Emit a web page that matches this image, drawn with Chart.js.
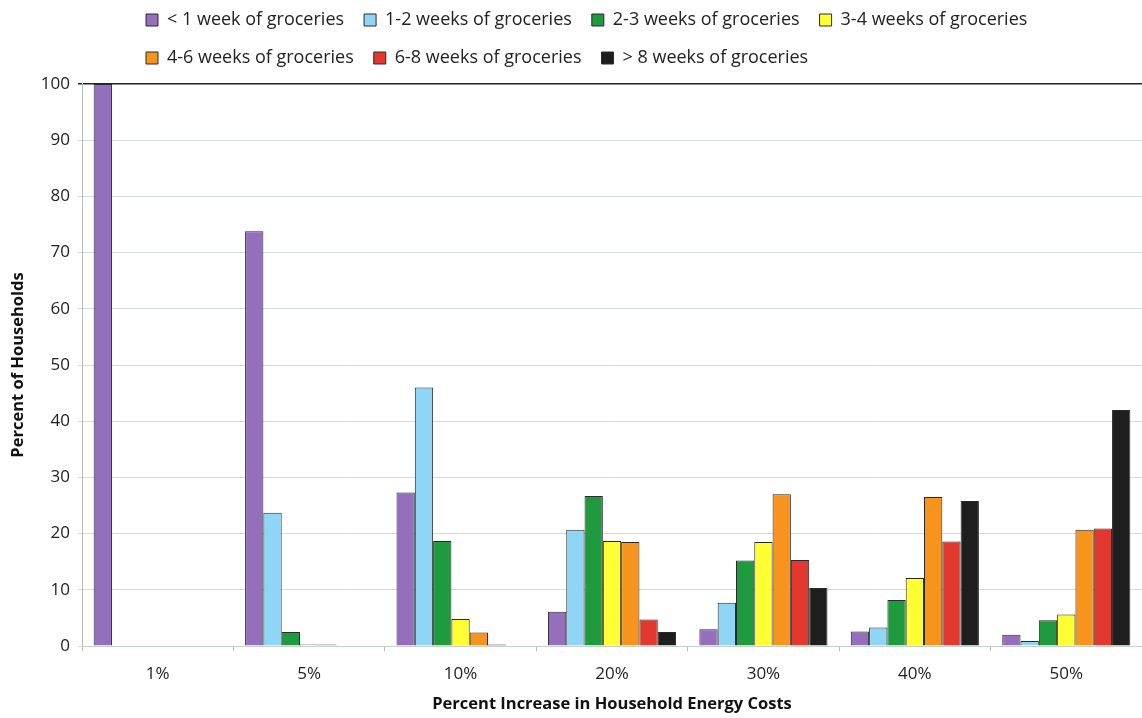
<!DOCTYPE html>
<html>
<head>
<meta charset="utf-8">
<script src="https://cdn.jsdelivr.net/npm/chart.js@4"></script>
<style>
  html, body { margin: 0; padding: 0; background: #fff; }
  #wrap { width: 1142px; height: 718px; }
</style>
</head>
<body>
<div id="wrap"><canvas id="groceriesChart"></canvas></div>
<script>
// categorias (aumento % no custo de energia)
const increaseLabels = ['1%', '5%', '10%', '20%', '30%', '40%', '50%'];
const yTicks = [0, 10, 20, 30, 40, 50, 60, 70, 80, 90, 100];

// % de domicílios por semanas de mantimentos
const lessThan1Week = [100, 73.8, 27.3, 6.1, 3.0, 2.6, 2.0];
const weeks1to2 = [0, 23.7, 46.0, 20.7, 7.7, 3.3, 0.9];
const weeks2to3 = [0, 2.5, 18.7, 26.7, 15.2, 8.2, 4.6];
const weeks3to4 = [0, 0.25, 4.8, 18.7, 18.5, 12.1, 5.6];
const weeks4to6 = [0, 0.25, 2.4, 18.5, 27.0, 26.5, 20.7];
const weeks6to8 = [0, 0, 0.25, 4.7, 15.3, 18.6, 20.9];
const moreThan8Weeks = [0, 0, 0, 2.5, 10.3, 25.8, 42.0];

const seriesNames = ['< 1 week of groceries', '1-2 weeks of groceries', '2-3 weeks of groceries',
  '3-4 weeks of groceries', '4-6 weeks of groceries', '6-8 weeks of groceries', '> 8 weeks of groceries'];
const seriesColors = ['#9470bc', '#8fd6f6', '#1f9a3e', '#ffff33', '#f7941e', '#e2382d', '#1e1e1e'];
const seriesData = [lessThan1Week, weeks1to2, weeks2to3, weeks3to4, weeks4to6, weeks6to8, moreThan8Weeks];

const fontFamily = '"Open Sans", sans-serif';

// legenda alinhada à esquerda e um pouco acima, como no original
const legendShift = {
  id: 'legendShift',
  afterLayout(chart) {
    const lg = chart.legend;
    const w = lg.right - lg.left;
    lg.left = 126;
    lg.right = lg.left + w;
    lg.top -= 7;
    lg.bottom -= 7;
  }
};

const ctx = document.getElementById('groceriesChart').getContext('2d');
new Chart(ctx, {
  type: 'bar',
  data: {
    labels: increaseLabels,
    datasets: seriesData.map((d, i) => ({
      label: seriesNames[i],
      data: d,
      backgroundColor: seriesColors[i],
      borderColor: '#2a2a2a',
      borderWidth: 1,
      barPercentage: 1,
      categoryPercentage: 0.846
    }))
  },
  options: {
    responsive: true,
    maintainAspectRatio: false,
    animation: false,
    layout: { padding: { top: -2, right: 0, bottom: 4, left: 0 } },
    scales: {
      y: {
        min: 0,
        max: 100,
        afterBuildTicks: (scale) => { scale.ticks = yTicks.map(v => ({ value: v })); },
        afterFit: (scale) => { scale.width = 82; },
        ticks: { color: '#222', font: { family: fontFamily, size: 17 }, padding: 8 },
        grid: {
          color: (c) => c.tick && c.tick.value === 100 ? '#222' : '#d4dcd8',
          lineWidth: (c) => c.tick && c.tick.value === 100 ? 1.5 : 1,
          tickLength: 4
        },
        border: { color: '#b8b8b8' },
        title: {
          display: true,
          text: 'Percent of Households',
          color: '#111',
          font: { family: fontFamily, size: 16.5, weight: 'bold' },
          padding: { top: 8, bottom: 4 }
        }
      },
      x: {
        afterFit: (scale) => { scale.height = 68; },
        ticks: { color: '#222', font: { family: fontFamily, size: 17 }, padding: 13 },
        grid: { drawOnChartArea: false, tickLength: 5, color: '#b8b8b8' },
        border: { color: '#c8d0cc' },
        title: {
          display: true,
          text: 'Percent Increase in Household Energy Costs',
          color: '#111',
          font: { family: fontFamily, size: 16.5, weight: 'bold' },
          padding: { top: 2, bottom: 0 }
        }
      }
    },
    plugins: {
      legend: {
        position: 'top',
        align: 'start',
        fullSize: false,
        labels: {
          color: '#222',
          font: { family: fontFamily, size: 18 },
          boxWidth: 12,
          boxHeight: 12,
          padding: 20
        }
      },
      tooltip: { enabled: false }
    }
  },
  plugins: [legendShift]
});
</script>
</body>
</html>
